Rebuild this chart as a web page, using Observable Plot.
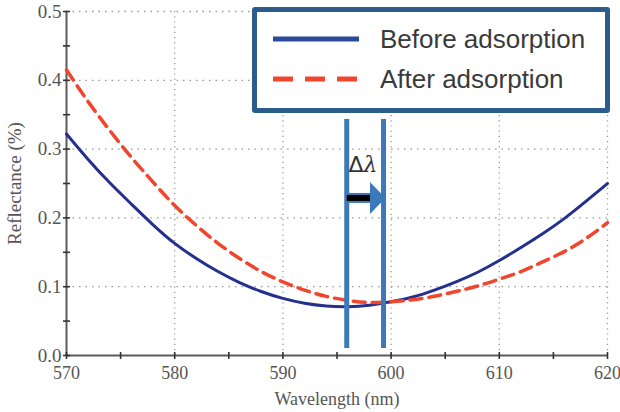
<!DOCTYPE html>
<html><head><meta charset="utf-8">
<script src="https://cdn.jsdelivr.net/npm/d3@7"></script>
<script src="https://cdn.jsdelivr.net/npm/@observablehq/plot@0.6"></script>
<style>
body{margin:0;background:#fff;}
#wrap{position:relative;width:620px;height:412px;}
#legend{position:absolute;left:252px;top:7px;width:348px;height:96px;border:5px solid #2b5c8c;border-radius:3px;background:#fff;}
</style></head><body><div id="wrap"></div>
<script>
const wavelength = [570,572,574,576,578,580,582,584,586,588,590,592,594,596,598,600,602,604,606,608,610,612,614,616,618,620];
const before = [0.322,0.285,0.251,0.220,0.190,0.163,0.141,0.122,0.106,0.093,0.083,0.076,0.072,0.071,0.073,0.078,0.085,0.095,0.107,0.121,0.138,0.157,0.177,0.199,0.224,0.250];
const after  = [0.415,0.369,0.327,0.288,0.252,0.218,0.189,0.163,0.141,0.122,0.107,0.095,0.086,0.080,0.077,0.078,0.081,0.086,0.093,0.101,0.111,0.122,0.136,0.151,0.170,0.193];
const xTicks = [570,580,590,600,610,620];
const xMinor = [570,575,580,585,590,595,600,605,610,615,620];
const yTicks = [0,0.1,0.2,0.3,0.4,0.5];
const yMinor = [0,0.05,0.1,0.15,0.2,0.25,0.3,0.35,0.4,0.45,0.5];
const seriesNames = ["Before adsorption","After adsorption"];
const shiftLines = [595.9, 599.3];
const shiftSpan = [0.01, 0.343];
const shaft = [{x1: 595.8, x2: 598.4, y: 0.229}];
const head = [{x: 598.76, y: 0.229}];
const deltaLabel = [{x: 597.4, y: 0.277, t: "Δλ"}];

const BLUE = "#24308f", RED = "#f2452d", LINEBLUE = "#3b79b9";
const headSymbol = {draw(ctx, size){ const r = Math.sqrt(size/Math.PI); ctx.moveTo(-0.48*r,-r); ctx.lineTo(0.48*r,0); ctx.lineTo(-0.48*r,r); ctx.closePath(); }};
const vTick = {draw(ctx, size){ const r = Math.sqrt(size/Math.PI); ctx.moveTo(0,-r); ctx.lineTo(0,r); }};
const hTick = {draw(ctx, size){ const r = Math.sqrt(size/Math.PI); ctx.moveTo(-r,0); ctx.lineTo(r,0); }};

const chart = Plot.plot({
  width: 620, height: 412,
  marginLeft: 66, marginRight: 13, marginTop: 11, marginBottom: 57,
  x: {domain: [570, 620]},
  y: {domain: [0, 0.5]},
  style: {background: "#fff"},
  marks: [
    Plot.ruleY(yTicks.filter(v => v > 0), {stroke: "#999", strokeWidth: 1.3, strokeDasharray: "1.5,5"}),
    Plot.ruleX(xTicks.filter(v => v > 570), {stroke: "#999", strokeWidth: 1.3, strokeDasharray: "1.2,4"}),
    Plot.ruleX([570], {stroke: "#5a5a5a", strokeWidth: 2}),
    Plot.ruleY([0], {stroke: "#5a5a5a", strokeWidth: 2}),
    Plot.dot(xMinor, {x: d => d, y: 0, symbol: vTick, r: 3.5, stroke: "#333", strokeWidth: 1.6, fill: "none"}),
    Plot.dot(yMinor, {x: 570, y: d => d, symbol: hTick, r: 3.5, stroke: "#333", strokeWidth: 1.6, fill: "none"}),
    Plot.axisX(xTicks, {tickSize: 0, tickPadding: 11, fontSize: 18, fontFamily: "Liberation Serif", color: "#555",
      label: "Wavelength (nm)", labelAnchor: "center", labelArrow: false, labelOffset: 49}),
    Plot.axisY(yTicks, {tickSize: 0, tickPadding: 5, fontSize: 19, fontFamily: "Liberation Serif", color: "#555", tickFormat: d3.format(".1f"),
      label: "Reflectance (%)", labelAnchor: "center", labelArrow: false, labelOffset: 59}),
    Plot.lineY(before, {x: wavelength, stroke: BLUE, strokeWidth: 3, curve: "natural"}),
    Plot.lineY(after, {x: wavelength, stroke: RED, strokeWidth: 3.5, strokeDasharray: "12,7", curve: "natural"}),
    Plot.ruleX(shiftLines, {y1: shiftSpan[0], y2: shiftSpan[1], stroke: LINEBLUE, strokeWidth: 5}),
    Plot.link(shaft, {x1: "x1", x2: "x2", y1: "y", y2: "y", stroke: LINEBLUE, strokeWidth: 10}),
    Plot.link(shaft, {x1: d => d.x1 + 0.1, x2: "x2", y1: "y", y2: "y", stroke: "#000", strokeWidth: 6}),
    Plot.dot(head, {x: "x", y: "y", r: 16, symbol: headSymbol, fill: LINEBLUE, stroke: "none"}),
    Plot.text(deltaLabel, {x: "x", y: "y", text: "t", fontSize: 22, fontFamily: "DejaVu Sans", fill: "#333"})
  ]
});
const wrap = document.getElementById("wrap");
wrap.appendChild(chart);

// italic lambda in the Δλ label
d3.select(chart).selectAll("text").filter(function(){ return this.textContent === "Δλ"; }).each(function(){
  const t = d3.select(this);
  t.text(null);
  t.append("tspan").text("Δ");
  t.append("tspan").attr("font-style", "italic").attr("font-family", "DejaVu Serif").text("λ");
});

const legend = document.createElement("div");
legend.id = "legend";
wrap.appendChild(legend);
const ls = d3.select(legend).append("svg").attr("width", 348).attr("height", 96);
const styles = [{stroke: "#2a4a9c", dash: null}, {stroke: RED, dash: "20,12"}];
seriesNames.forEach((name, i) => {
  const y = 27 + i * 40;
  ls.append("line").attr("x1", 16).attr("x2", 102).attr("y1", y).attr("y2", y)
    .attr("stroke", styles[i].stroke).attr("stroke-width", 5).attr("stroke-dasharray", styles[i].dash);
  ls.append("text").attr("x", 123).attr("y", y + 9).text(name)
    .attr("font-family", "Liberation Sans, Arial, sans-serif").attr("font-size", 26).attr("fill", "#3a3a3a");
});
</script>
</body></html>
